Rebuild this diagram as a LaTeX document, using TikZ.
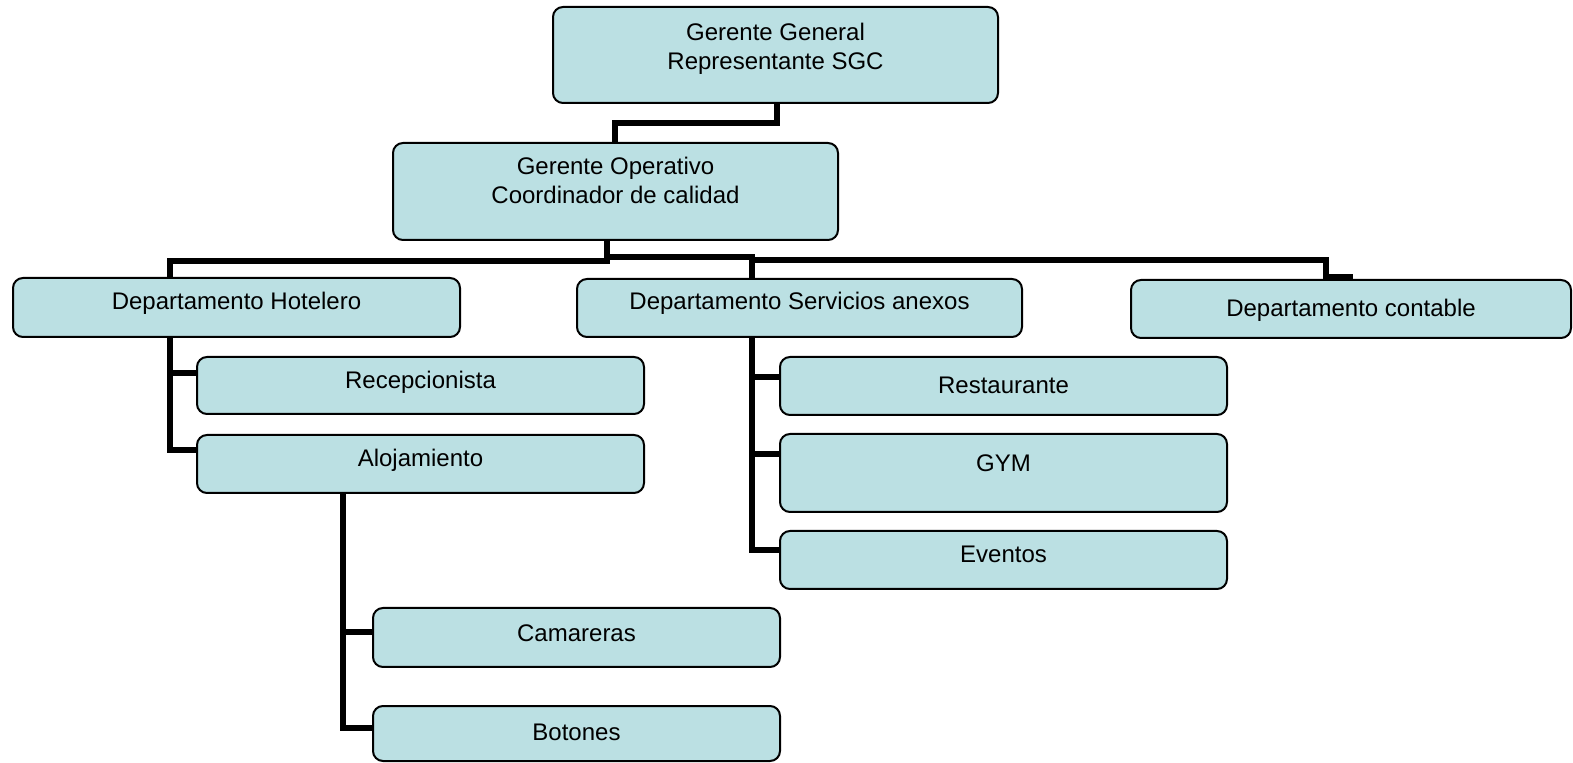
\documentclass[tikz,border=0pt]{standalone}
\usepackage{fontspec}
\setmainfont{Liberation Sans}
\usetikzlibrary{fit}
\definecolor{boxfill}{RGB}{187,224,227}
\tikzset{
  box/.style={draw=black, fill=boxfill, line width=1pt, rounded corners=5pt, inner sep=0pt},
  lbl/.style={anchor=base, inner sep=0pt, font=\fontsize{12pt}{14.5pt}\selectfont, text=black},
  conn/.style={draw=black, line width=3pt, line join=miter, line cap=butt}
}
\newcommand{\mybox}[5]{\node[box, fit={(#2,#3) (#4,#5)}] (#1) {};}
\begin{document}
\begin{tikzpicture}[x=0.5pt,y=-0.5pt]
\useasboundingbox (0,0) rectangle (1573,763);
% boxes
\mybox{gg}{553}{7}{998}{103}
\mybox{go}{393}{143}{838}{240}
\mybox{dh}{13}{278}{460}{337}
\mybox{ds}{577}{279}{1022}{337}
\mybox{dc}{1131}{280}{1571}{338}
\mybox{recep}{197}{357}{644}{414}
\mybox{aloj}{197}{435}{644}{493}
\mybox{rest}{780}{357}{1227}{415}
\mybox{gym}{780}{434}{1227}{512}
\mybox{evt}{780}{531}{1227}{589}
\mybox{cam}{373}{608}{780}{667}
\mybox{bot}{373}{706}{780}{761}
% labels
\node[lbl] (ggt1) at (775.5,41) {Gerente General};
\node[lbl] (ggt2) at (775.5,70) {Representante SGC};
\node[lbl] (got1) at (615.5,175) {Gerente Operativo};
\node[lbl] (got2) at (615.5,204) {Coordinador de calidad};
\node[lbl] (dht) at (236.5,310) {Departamento Hotelero};
\node[lbl] (dst) at (799.5,310) {Departamento Servicios anexos};
\node[lbl] (dct) at (1351,317) {Departamento contable};
\node[lbl] (recept) at (420.5,389) {Recepcionista};
\node[lbl] (alojt) at (420.5,467) {Alojamiento};
\node[lbl] (restt) at (1003.5,394) {Restaurante};
\node[lbl] (gymt) at (1003.5,472) {GYM};
\node[lbl] (evtt) at (1003.5,563) {Eventos};
\node[lbl] (camt) at (576.5,642) {Camareras};
\node[lbl] (bott) at (576.5,740) {Botones};
% junction coordinates
\coordinate (j1) at (777,123);
\coordinate (j2) at (615,123);
\coordinate (j3) at (607,261);
\coordinate (j4) at (170,261);
\coordinate (j5) at (607,257);
\coordinate (j6) at (752,257);
\coordinate (j7) at (752,260);
\coordinate (j8) at (1326,260);
\coordinate (j9) at (1326,277);
\coordinate (j10) at (1353,277);
\coordinate (k1) at (170,373);
\coordinate (k2) at (170,450);
\coordinate (m1) at (343,632);
\coordinate (m2) at (343,728);
\coordinate (n0) at (752,337);
\coordinate (n1) at (752,377);
\coordinate (n2) at (752,454);
\coordinate (n3) at (752,550);
% connectors
\draw[conn] (gg.south -| j1) -- (j1) -- (j2) -- (go.north -| j2);
\draw[conn] (go.south -| j3) -- (j3) -- (j4) -- (dh.north -| j4);
\draw[conn] (j5) -- (j6) -- (ds.north -| j6);
\draw[conn] (j7) -- (j8) -- (j9) -- (j10);
\draw[conn] (dh.south -| k1) -- (k2) -- (aloj.west |- k2);
\draw[conn] (k1) -- (recep.west |- k1);
\draw[conn] (aloj.south -| m1) -- (m2) -- (bot.west |- m2);
\draw[conn] (m1) -- (cam.west |- m1);
\draw[conn] (ds.south -| n0) -- (n3) -- (evt.west |- n3);
\draw[conn] (n1) -- (rest.west |- n1);
\draw[conn] (n2) -- (gym.west |- n2);
\end{tikzpicture}
\end{document}
